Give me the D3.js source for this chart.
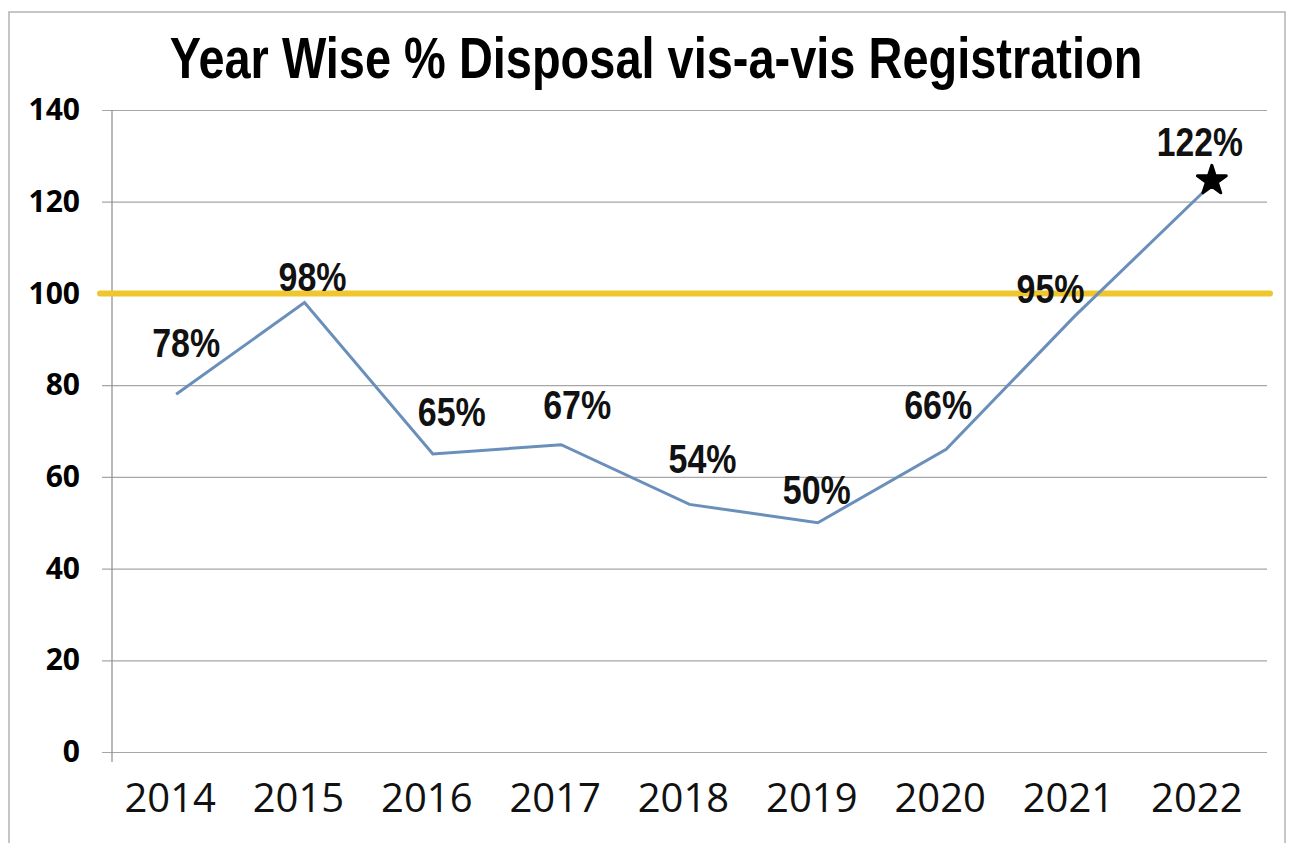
<!DOCTYPE html>
<html>
<head>
<meta charset="utf-8">
<script src="https://cdn.jsdelivr.net/npm/d3@7"></script>
<style>
  body { margin: 0; background: #fff; }
  svg { display: block; }
</style>
</head>
<body>
<div id="chart"></div>
<script>
const years = ['2014', '2015', '2016', '2017', '2018', '2019', '2020', '2021', '2022'];
const disposal = [78, 98, 65, 67, 54, 50, 66, 95, 122];
const yTicks = [0, 20, 40, 60, 80, 100, 120, 140];
const target = 100;
// hand placed label nudges [dx, dy] relative to each point
const labelNudge = [[10, -37], [8, -12], [19, -28], [16, -26], [13, -31], [-1, -19], [-8, -30], [-24, -13], [-3, -37]];

const width = 1290;
const height = 843;
const margin = {top: 110, right: 23, bottom: 91, left: 112};

const svg = d3.select('#chart')
    .append('svg')
    .attr('width', width)
    .attr('height', height);

// outer frame
svg.append('rect')
    .attr('x', 9)
    .attr('y', 12)
    .attr('width', 1276)
    .attr('height', 860)
    .attr('fill', 'none')
    .attr('stroke', '#b4b4b4')
    .attr('stroke-width', 1.5);

const x = d3.scaleBand()
    .domain(years)
    .range([margin.left, width - margin.right]);

const y = d3.scaleLinear()
    .domain([0, 140])
    .range([height - margin.bottom, margin.top]);

// gridlines + y labels
const yAxis = svg.append('g')
    .attr('transform', `translate(${margin.left},0)`)
    .call(d3.axisLeft(y)
        .tickValues(yTicks)
        .tickSize(-(width - margin.right - margin.left))
        .tickSizeOuter(0)
        .tickPadding(32));
yAxis.select('.domain').remove();
yAxis.selectAll('.tick line')
    .attr('x1', -10)
    .attr('stroke', '#a6a6a6')
    .attr('stroke-width', 1.2);
yAxis.selectAll('.tick text')
    .style('font-family', '"Open Sans", sans-serif')
    .style('font-weight', 'bold')
    .style('font-size', '30px')
    .attr('fill', '#000');

// y axis line
svg.append('line')
    .attr('x1', margin.left)
    .attr('x2', margin.left)
    .attr('y1', y(140))
    .attr('y2', y(0) + 10)
    .attr('stroke', '#8c8c8c')
    .attr('stroke-width', 1.2);

// x labels
svg.append('g')
    .selectAll('text')
    .data(years)
    .enter()
    .append('text')
    .attr('x', d => x(d) + x.bandwidth() / 2 - 6)
    .attr('y', 812)
    .attr('text-anchor', 'middle')
    .style('font-family', '"Open Sans", sans-serif')
    .style('font-size', '40px')
    .attr('fill', '#111')
    .text(d => d);

// title, squeezed horizontally to the narrow look
const title = svg.append('text')
    .attr('text-anchor', 'middle')
    .style('font-family', '"Liberation Sans Narrow", "Arial Narrow", "Liberation Sans", sans-serif')
    .style('font-weight', 'bold')
    .style('font-size', '58px')
    .attr('fill', '#000')
    .text('Year Wise % Disposal vis-a-vis Registration');
const titleLen = title.node().getComputedTextLength();
title.attr('transform', `translate(656,78) scale(${973 / titleLen},1)`);

// 100% reference line
svg.append('line')
    .attr('x1', 100)
    .attr('x2', 1270)
    .attr('y1', y(target))
    .attr('y2', y(target))
    .attr('stroke', '#f0c62e')
    .attr('stroke-width', 6)
    .attr('stroke-linecap', 'round');

// series line
const line = d3.line()
    .x((d, i) => x(years[i]) + x.bandwidth() / 2)
    .y(d => y(d));

svg.append('path')
    .datum(disposal)
    .attr('d', line)
    .attr('fill', 'none')
    .attr('stroke', '#6a8fbb')
    .attr('stroke-width', 3);

// data labels
svg.append('g')
    .selectAll('text')
    .data(disposal)
    .enter()
    .append('text')
    .attr('x', (d, i) => x(years[i]) + x.bandwidth() / 2 + labelNudge[i][0])
    .attr('y', (d, i) => y(d) + labelNudge[i][1])
    .attr('text-anchor', 'middle')
    .attr('textLength', (d) => d >= 100 ? 86 : 68)
    .attr('lengthAdjust', 'spacingAndGlyphs')
    .style('font-family', '"Liberation Sans Narrow", "Arial Narrow", "Liberation Sans", sans-serif')
    .style('font-weight', 'bold')
    .style('font-size', '40px')
    .attr('fill', '#111')
    .text(d => d + '%');

// star on the last point
const last = disposal.length - 1;
svg.append('path')
    .attr('d', d3.symbol().type(d3.symbolStar).size(260)())
    .attr('transform', `translate(${x(years[last]) + x.bandwidth() / 2 + 9},${y(disposal[last]) - 12})`)
    .attr('fill', '#000')
    .attr('stroke', '#000')
    .attr('stroke-width', 3)
    .attr('stroke-linejoin', 'round');
</script>
</body>
</html>
